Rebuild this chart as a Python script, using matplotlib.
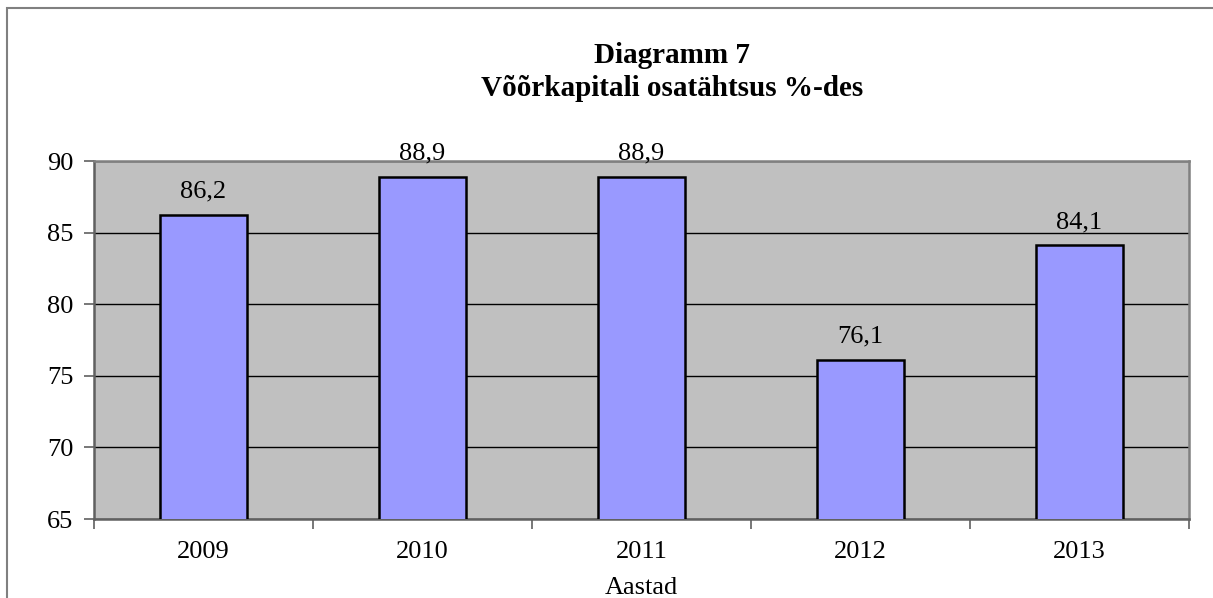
import matplotlib
matplotlib.use("Agg")
from matplotlib import pyplot as plt
from matplotlib.patches import Rectangle

# andmed
aastad = ["2009", "2010", "2011", "2012", "2013"]
vaartused = [86.2, 88.9, 88.9, 76.1, 84.1]
sildid = ["86,2", "88,9", "88,9", "76,1", "84,1"]
y_ticks = [65, 70, 75, 80, 85, 90]

plt.rcParams['font.family'] = ['Liberation Serif', 'DejaVu Serif']

fig = plt.figure(figsize=(12.13, 5.98), dpi=100)
W, H = 1213, 598
# joonise ala pikslites: vasak 94, parem 1189, ülemine 161, alumine 519
ax = fig.add_axes([94 / W, 1 - 519 / H, (1189 - 94) / W, (519 - 161) / H])
ax.set_facecolor("#C0C0C0")

# raam ümber joonise
fig.patches.append(Rectangle((7 / W, -0.1), 1.2, 1 - 8 / H + 0.1, transform=fig.transFigure,
                             fill=False, edgecolor="#808080", linewidth=1.5))

x = list(range(len(aastad)))
ax.bar(x, vaartused, width=0.4, color="#9999FF", edgecolor="black", linewidth=1.8, zorder=3)

for xi, v, s in zip(x, vaartused, sildid):
    ax.annotate(s, (xi, v), xytext=(0, 9), textcoords="offset points",
                ha="center", va="bottom", fontsize=19, annotation_clip=False)

ax.set_ylim(65, 90)
ax.set_xlim(-0.5, len(aastad) - 0.5)
ax.set_yticks(y_ticks)
ax.yaxis.grid(True, color="black", linewidth=1.0)
ax.set_axisbelow(True)

# x-telje jaotised kategooriate vahel
ax.set_xticks([i - 0.5 for i in range(len(aastad) + 1)])
ax.set_xticklabels([])
ax.set_xticks(x, minor=True)
ax.set_xticklabels(aastad, minor=True, fontsize=19)
ax.tick_params(axis="x", which="minor", length=0, pad=16)
ax.tick_params(axis="x", which="major", length=7, width=1.2, direction="out", color="#606060")
ax.tick_params(axis="y", length=7, width=1.2, direction="out", color="#606060", labelsize=19, pad=8)

for k in ["top", "right", "left", "bottom"]:
    ax.spines[k].set_color("#808080")
    ax.spines[k].set_linewidth(1.8)
ax.spines["left"].set_color("#606060")
ax.spines["bottom"].set_color("#606060")

ax.set_xlabel("Aastad", fontsize=19, labelpad=10)

# pealkiri kahel real
fig.text(672 / W, 1 - 63 / H, "Diagramm 7", ha="center", va="baseline",
         fontsize=21, fontweight="bold")
fig.text(672 / W, 1 - 96 / H, "Võõrkapitali osatähtsus %-des", ha="center", va="baseline",
         fontsize=21, fontweight="bold")

plt.savefig("out.png", dpi=100)
